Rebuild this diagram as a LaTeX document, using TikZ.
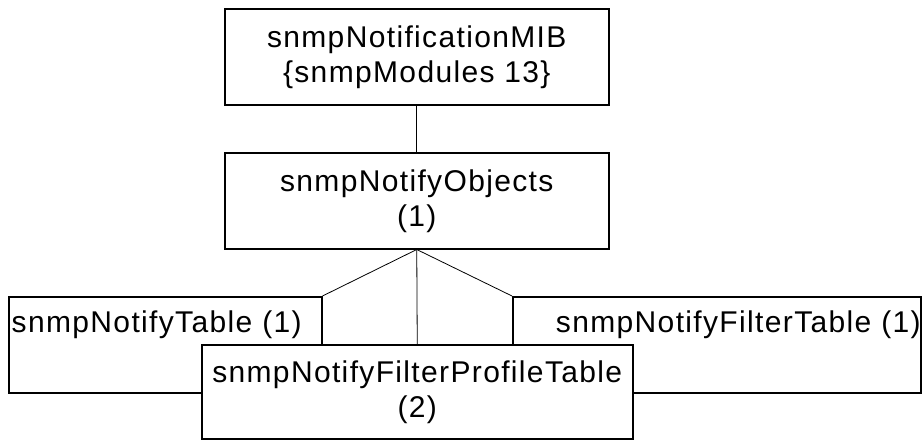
\documentclass[tikz,border=0pt]{standalone}
\usepackage{fontspec}
\setmainfont{Liberation Sans}[LetterSpace=4.5]
\begin{document}
\begin{tikzpicture}[x=1pt,y=-1pt,
  box/.style={draw, line width=1.5pt, fill=white, inner sep=0pt,
    font=\fontsize{30}{35}\selectfont, anchor=north west},
  conn/.style={line width=0.8pt}]
\useasboundingbox (0,0) rectangle (924,440);
\node[box, minimum width=384pt, minimum height=96pt, align=center] (mib) at (224,8)
  {snmpNotificationMIB\\\{snmpModules 13\}};
\node[box, minimum width=384pt, minimum height=96pt, align=center] (obj) at (224,152)
  {snmpNotifyObjects\\(1)};
\node[box, minimum width=313pt, minimum height=96pt, text width=307pt, align=left] (tbl) at (8,296)
  {snmpNotifyTable (1)\\\strut};
\node[box, minimum width=408pt, minimum height=96pt, text width=408pt, align=right] (ftbl) at (512,296)
  {snmpNotifyFilterTable (1)\\\strut};
\draw[conn] (mib.south) -- (obj.north);
\draw[conn] (obj.south) -- (tbl.north east);
\draw[conn] (obj.south) -- (ftbl.north west);
\node[box, minimum width=431pt, minimum height=94pt, align=center] (prof) at (201,344)
  {snmpNotifyFilterProfileTable\\(2)};
\draw[conn] (obj.south) -- (prof.north);
\end{tikzpicture}
\end{document}
